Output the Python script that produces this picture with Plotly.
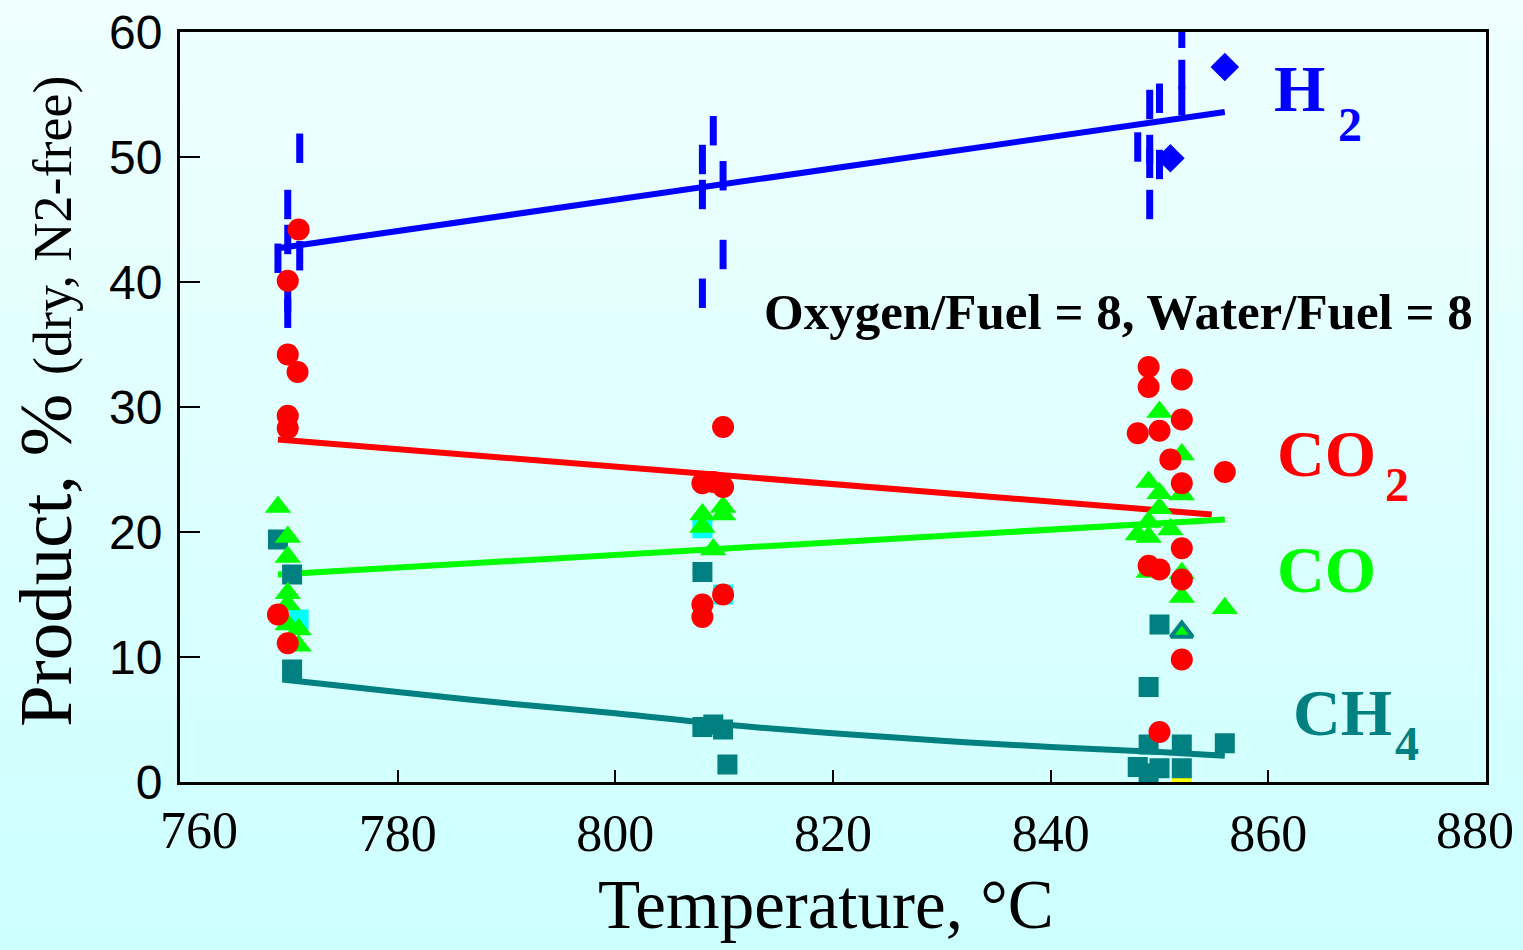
import plotly.graph_objects as go

# ---------------- data ----------------
h2_dash_x = [771.0, 769.9, 769.9, 769.0, 771.0, 769.9, 769.9,
             809.0, 808.0, 808.0, 809.9, 809.9, 808.0,
             852.05, 852.05, 852.05, 850.0, 849.1, 848.0, 849.1, 849.1, 850.0, 849.1]
h2_dash_y = [50.7, 46.2, 43.4, 41.9, 42.1, 38.8, 37.5,
             52.1, 49.8, 47.0, 48.5, 42.2, 39.1,
             59.9, 56.6, 54.5, 54.7, 54.2, 50.8, 50.6, 49.5, 49.4, 46.2]
h2_diamond_x = [851.0, 856.0]
h2_diamond_y = [49.9, 57.2]
h2_fit_x = [769.0, 856.0]
h2_fit_y = [42.7, 53.6]

co2_x = [770.9, 769.9, 769.9, 770.8, 769.9, 769.9, 769.0, 769.9,
         809.9, 808.0, 809.9, 809.0, 809.9, 808.0, 808.0,
         849.0, 849.0, 852.05, 852.05, 848.0, 850.0, 851.0, 856.0, 852.05,
         852.05, 849.0, 850.0, 852.05, 852.05, 850.0]
co2_y = [44.2, 40.1, 34.2, 32.8, 29.3, 28.3, 13.4, 11.1,
         28.4, 23.9, 23.6, 24.0, 15.0, 14.2, 13.2,
         33.2, 31.6, 32.2, 29.0, 27.9, 28.1, 25.8, 24.8, 23.9,
         18.7, 17.3, 17.0, 16.2, 9.8, 4.0]
co2_fit_x = [769.0, 854.8]
co2_fit_y = [27.4, 21.4]

co_x = [769.0, 769.9, 769.9, 769.9, 769.9, 769.9, 770.9, 770.9,
        808.0, 808.0, 809.9, 809.9, 809.0,
        850.0, 852.05, 849.0, 850.0, 852.05, 850.0, 849.0, 851.0, 848.0, 849.0,
        852.05, 852.05, 849.0, 856.0]
co_y = [22.0, 19.6, 18.0, 15.1, 14.2, 12.6, 12.2, 10.9,
        21.4, 20.4, 22.0, 21.4, 18.6,
        29.6, 26.2, 24.0, 23.1, 23.0, 21.9, 20.8, 20.2, 19.8, 19.6,
        16.7, 14.8, 16.8, 13.9]
co_marked_x = [852.05]
co_marked_y = [12.0]
co_fit_x = [769.0, 856.0]
co_fit_y = [16.6, 21.0]

ch4_x = [769.0, 770.3, 770.3, 808.0, 808.0, 809.0, 809.9, 810.3,
         850.0, 849.0, 849.0, 852.05, 848.0, 850.0, 852.05, 849.0, 856.0]
ch4_y = [19.4, 16.6, 9.0, 16.8, 4.4, 4.6, 4.2, 1.4,
         12.6, 7.6, 3.0, 3.0, 1.2, 1.1, 1.1, 0.7, 3.1]
ch4_fit_x = [769.4, 780, 790, 800, 810, 820, 830, 840, 850, 856]
ch4_fit_y = [8.2, 7.2, 6.3, 5.5, 4.6, 3.9, 3.3, 2.8, 2.4, 2.1]

cyan_x = [770.9, 808.0, 809.9]
cyan_y = [13.0, 20.3, 15.0]
yellow_x = [852.05]
yellow_y = [0.3]

x_ticks = [760, 780, 800, 820, 840, 860, 880]
y_ticks = [0, 10, 20, 30, 40, 50, 60]

# ---------------- styling ----------------
BLUE = "#0000ff"
RED = "#ff0000"
GREEN = "#00ff00"
TEAL = "#008080"
SERIF = "Liberation Serif"
SANS = "Liberation Sans"

fig = go.Figure()

# fit lines
for fx, fy, c in [(h2_fit_x, h2_fit_y, BLUE), (co2_fit_x, co2_fit_y, RED),
                  (co_fit_x, co_fit_y, GREEN), (ch4_fit_x, ch4_fit_y, TEAL)]:
    fig.add_trace(go.Scatter(x=fx, y=fy, mode="lines",
                             line=dict(color=c, width=6, shape="spline"),
                             hoverinfo="skip", showlegend=False))

# partly hidden background markers
fig.add_trace(go.Scatter(x=cyan_x, y=cyan_y, mode="markers",
                         marker=dict(symbol="square", size=20, color="#00ffff"),
                         showlegend=False))
fig.add_trace(go.Scatter(x=yellow_x, y=yellow_y, mode="markers",
                         marker=dict(symbol="square", size=20, color="#ffff00"),
                         showlegend=False))
# CH4
fig.add_trace(go.Scatter(x=ch4_x, y=ch4_y, mode="markers",
                         marker=dict(symbol="square", size=20, color=TEAL),
                         showlegend=False))
# CO
fig.add_trace(go.Scatter(x=co_x, y=co_y, mode="markers",
                         marker=dict(symbol="triangle-up", size=23, color=GREEN),
                         showlegend=False))
fig.add_trace(go.Scatter(x=co_marked_x, y=co_marked_y, mode="markers",
                         marker=dict(symbol="triangle-up", size=19, color=GREEN,
                                     line=dict(color=TEAL, width=4)),
                         showlegend=False))
# H2
fig.add_trace(go.Scatter(x=h2_dash_x, y=h2_dash_y, mode="markers",
                         marker=dict(symbol="line-ns", size=21,
                                     line=dict(color=BLUE, width=7)),
                         showlegend=False))
fig.add_trace(go.Scatter(x=h2_diamond_x, y=h2_diamond_y, mode="markers",
                         marker=dict(symbol="diamond", size=22, color=BLUE),
                         showlegend=False))
# CO2
fig.add_trace(go.Scatter(x=co2_x, y=co2_y, mode="markers",
                         marker=dict(symbol="circle", size=22, color=RED),
                         showlegend=False))

# gradient background strips
shapes = []
n = 95
top = (240, 255, 255)
bot = (204, 255, 255)
for i in range(n):
    t = i / (n - 1)
    col = tuple(round(top[k] + (bot[k] - top[k]) * t) for k in range(3))
    shapes.append(dict(type="rect", xref="paper", yref="paper", layer="below",
                       x0=-0.2, x1=1.1,
                       y0=1 + 32 / 750 - (i + 1) * (950 / 750) / n - 0.001,
                       y1=1 + 32 / 750 - i * (950 / 750) / n + 0.001,
                       line=dict(width=0),
                       fillcolor="rgb(%d,%d,%d)" % col))


def px_x(p):
    return (p - 180) / 1306


def px_y(p):
    return (782 - p) / 750


annotations = [
    dict(text="Temperature, °C", xref="paper", yref="paper", x=px_x(826), y=px_y(905),
         xanchor="center", yanchor="middle", showarrow=False,
         font=dict(family=SERIF, size=69, color="black")),
    dict(text='Product, % <span style="font-size:54px">(dry, N2-free)</span>',
         xref="paper", yref="paper", x=px_x(46), y=px_y(402),
         xanchor="center", yanchor="middle",
         textangle=-90, showarrow=False, font=dict(family=SERIF, size=75, color="black")),
    dict(text="<b>Oxygen/Fuel = 8, Water/Fuel = 8</b>", xref="paper", yref="paper",
         x=px_x(1118), y=px_y(312), xanchor="center", yanchor="middle", showarrow=False,
         font=dict(family=SERIF, size=51, color="black")),
    # end tick labels, nudged inward as in the reference
    dict(text=str(x_ticks[0]), x=x_ticks[0], y=0, yref="y", xref="x", xshift=19,
         yshift=-48, xanchor="center", yanchor="middle", showarrow=False,
         font=dict(family=SERIF, size=52, color="black")),
    dict(text=str(x_ticks[-1]), x=x_ticks[-1], y=0, yref="y", xref="x", xshift=-11,
         yshift=-48, xanchor="center", yanchor="middle", showarrow=False,
         font=dict(family=SERIF, size=52, color="black")),
    # species labels
    dict(text="<b>H</b>", x=862.9, y=55.5, showarrow=False,
         font=dict(family=SERIF, size=66, color=BLUE)),
    dict(text="<b>2</b>", x=867.5, y=52.6, showarrow=False,
         font=dict(family=SERIF, size=48, color=BLUE)),
    dict(text="<b>CO</b>", x=865.3, y=26.3, showarrow=False,
         font=dict(family=SERIF, size=66, color=RED)),
    dict(text="<b>2</b>", x=871.8, y=23.8, showarrow=False,
         font=dict(family=SERIF, size=48, color=RED)),
    dict(text="<b>CO</b>", x=865.3, y=17.0, showarrow=False,
         font=dict(family=SERIF, size=66, color=GREEN)),
    dict(text="<b>CH</b>", x=866.8, y=5.6, showarrow=False,
         font=dict(family=SERIF, size=66, color=TEAL)),
    dict(text="<b>4</b>", x=872.7, y=3.1, showarrow=False,
         font=dict(family=SERIF, size=48, color=TEAL)),
]

x_text = [""] + [str(v) for v in x_ticks[1:-1]] + [""]

fig.update_layout(
    width=1523, height=950,
    margin=dict(l=180, r=37, t=32, b=168, autoexpand=False),
    paper_bgcolor="rgb(220,255,255)",
    plot_bgcolor="rgba(0,0,0,0)",
    shapes=shapes,
    annotations=annotations,
    showlegend=False,
)
fig.update_xaxes(range=[760, 880], tickvals=x_ticks, ticktext=x_text,
                 ticks="inside", ticklen=12, tickwidth=2, tickcolor="black",
                 showline=True, linecolor="black", linewidth=3, mirror=True,
                 showgrid=False, zeroline=False, automargin=False,
                 ticklabelstandoff=4,
                 tickfont=dict(family=SERIF, size=52, color="black"))
fig.update_yaxes(range=[0, 60], tickvals=y_ticks, ticktext=[str(v) for v in y_ticks],
                 ticks="inside", ticklen=20, tickwidth=2, tickcolor="black",
                 showline=True, linecolor="black", linewidth=3, mirror=True,
                 showgrid=False, zeroline=False, automargin=False,
                 ticklabelstandoff=5,
                 tickfont=dict(family=SANS, size=48, color="black"))

fig.write_html("out.html", config={"displayModeBar": False},
               post_script="document.body.style.margin='0';document.body.style.overflow='hidden';")
